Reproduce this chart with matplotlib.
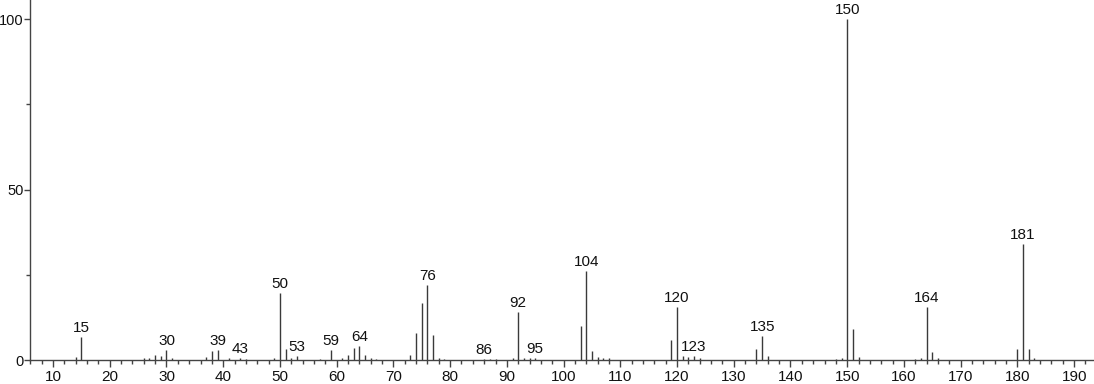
import matplotlib
matplotlib.use("Agg")
import matplotlib.pyplot as plt
from matplotlib.ticker import MultipleLocator

plt.rcParams['font.family'] = ['Liberation Sans', 'DejaVu Sans']

mz = [14, 15, 26, 27, 28, 29, 30, 31, 37, 38, 39, 41, 43, 44, 49, 50, 51, 52, 53,
      57, 59, 61, 62, 63, 64, 65, 66, 67, 73, 74, 75, 76, 77, 78, 79,
      86, 87, 88, 91, 92, 93, 94, 95, 103, 104, 105, 106, 107, 108,
      119, 120, 121, 122, 123, 124, 134, 135, 136, 148, 149, 150, 151, 152,
      162, 163, 164, 165, 166, 180, 181, 182, 183]
intensity = [0.9, 6.7, 0.5, 0.7, 1.5, 1.2, 3.0, 0.5, 1.0, 2.5, 3.0, 0.5, 0.5, 0.4, 0.7, 19.6, 3.1, 0.5, 1.2,
             0.4, 2.8, 0.5, 1.4, 3.4, 4.1, 1.6, 0.5, 0.4, 1.4, 7.9, 16.6, 22.0, 7.3, 0.6, 0.4,
             0.4, 0.4, 0.4, 0.5, 14.2, 0.7, 0.5, 0.5, 9.9, 26.0, 2.7, 0.8, 0.6, 0.5,
             5.9, 15.6, 1.3, 0.8, 1.1, 0.5, 3.2, 7.0, 1.1, 0.4, 0.5, 100.0, 9.2, 0.9,
             0.3, 0.5, 15.6, 2.4, 0.5, 3.2, 34.0, 3.2, 0.6]
labeled = [15, 30, 39, 43, 50, 53, 59, 64, 76, 86, 92, 95, 104, 120, 123, 135, 150, 164, 181]
x_major = list(range(10, 200, 10))
y_major = [0, 50, 100]

fig = plt.figure(figsize=(10.94, 3.84), dpi=100)
ax = fig.add_axes([0.0274, 0.0625, 0.9726, 0.9375])

ax.vlines(mz, 0, intensity, colors='#3a3a3a', linewidth=1.0)

lookup = dict(zip(mz, intensity))
for m in labeled:
    ax.annotate(str(m), (m, lookup.get(m, 0.3)), xytext=(0, 1.5), textcoords='offset points',
                ha='center', va='bottom', fontsize=11, color='#111111')

ax.set_xlim(5.94, 193.5)
ax.set_ylim(0, 105.6)
ax.set_xticks(x_major)
ax.xaxis.set_minor_locator(MultipleLocator(2))
ax.set_yticks(y_major)
ax.yaxis.set_minor_locator(MultipleLocator(25))

for s in ['top', 'right']:
    ax.spines[s].set_visible(False)
for s in ['left', 'bottom']:
    ax.spines[s].set_color('#444444')
    ax.spines[s].set_linewidth(1.0)

ax.tick_params(axis='x', which='major', direction='out', length=5, width=1,
               color='#444444', labelsize=11, labelcolor='#111111', pad=2)
ax.tick_params(axis='y', which='major', direction='out', length=4, width=1,
               color='#444444', labelsize=10.5, labelcolor='#111111', pad=0.5)
ax.tick_params(axis='both', which='minor', direction='out', length=3, width=1, color='#444444')

fig.savefig('out.png', dpi=100)
